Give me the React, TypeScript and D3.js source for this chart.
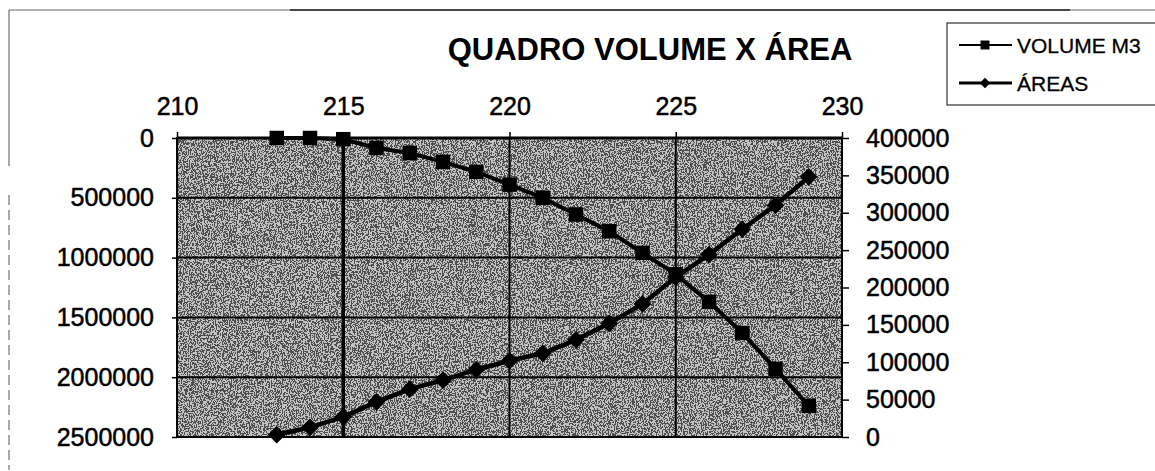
import React, { useEffect, useRef } from 'react';
import * as d3 from 'd3';

const cotas = [213, 214, 215, 216, 217, 218, 219, 220, 221, 222, 223, 224, 225, 226, 227, 228, 229];
const volumeM3 = [0, 0, 10000, 83000, 125000, 200000, 283000, 390000, 500000, 640000, 780000, 960000, 1140000, 1370000, 1630000, 1930000, 2240000];
const areas = [3000, 13000, 27000, 47000, 64000, 76000, 90000, 102000, 112000, 130000, 152000, 178000, 214000, 244000, 278000, 310000, 348000];

const topTicks = [210, 215, 220, 225, 230];
const leftTicks = [0, 500000, 1000000, 1500000, 2000000, 2500000];
const rightTicks = [0, 50000, 100000, 150000, 200000, 250000, 300000, 350000, 400000];
const seriesNames = ['VOLUME M3', 'ÁREAS'];

export default function App() {
  const svgRef = useRef<SVGSVGElement>(null);

  useEffect(() => {
    const svg = d3.select(svgRef.current); svg.selectAll('*').remove();
    const W = 1155, H = 471;
    const left = 177, right = 842, top = 138, bottom = 437;
    const font = 'Liberation Sans, Arial, sans-serif';

    const x = d3.scaleLinear().domain([210, 230]).range([left, right]);
    const yL = d3.scaleLinear().domain([0, 2500000]).range([top, bottom]);
    const yR = d3.scaleLinear().domain([0, 400000]).range([bottom, top]);

    svg.append('rect').attr('width', W).attr('height', H).attr('fill', '#fff');

    // textura do fundo (digitalização)
    const defs = svg.append('defs');
    const f = defs.append('filter').attr('id', 'scan').attr('x', 0).attr('y', 0).attr('width', '100%').attr('height', '100%');
    f.append('feTurbulence').attr('type', 'fractalNoise').attr('baseFrequency', '0.85 0.6').attr('numOctaves', 2).attr('seed', 4);
    f.append('feColorMatrix').attr('type', 'matrix').attr('values', '1 0 0 0 0  1 0 0 0 0  1 0 0 0 0  0 0 0 0 1');
    const ct = f.append('feComponentTransfer');
    ['feFuncR', 'feFuncG', 'feFuncB'].forEach(n => ct.append(n).attr('type', 'discrete').attr('tableValues', '0 1'));

    // moldura externa
    svg.append('line').attr('x1', 9).attr('x2', W).attr('y1', 10).attr('y2', 10).attr('stroke', '#666').attr('stroke-width', 1);
    svg.append('line').attr('x1', 290).attr('x2', 1070).attr('y1', 10).attr('y2', 10).attr('stroke', '#222').attr('stroke-width', 1.5);
    svg.append('line').attr('x1', 9).attr('x2', 9).attr('y1', 10).attr('y2', 166).attr('stroke', '#555').attr('stroke-width', 1);
    svg.append('line').attr('x1', 9).attr('x2', 9).attr('y1', 195).attr('y2', 470).attr('stroke', '#555').attr('stroke-width', 1).attr('stroke-dasharray', '10 5');

    // área de plotagem
    svg.append('rect').attr('x', left).attr('y', top).attr('width', right - left).attr('height', bottom - top).attr('fill', '#909090');
    svg.append('rect').attr('x', left).attr('y', top).attr('width', right - left).attr('height', bottom - top)
      .attr('filter', 'url(#scan)').attr('opacity', 0.45);

    // grades
    svg.append('g').selectAll('line').data(leftTicks.slice(1, -1)).enter().append('line')
      .attr('x1', left).attr('x2', right).attr('y1', d => yL(d)).attr('y2', d => yL(d)).attr('stroke', '#000').attr('stroke-width', 2);
    svg.append('g').selectAll('line').data(topTicks.slice(1, -1)).enter().append('line')
      .attr('x1', d => x(d)).attr('x2', d => x(d)).attr('y1', top).attr('y2', bottom).attr('stroke', '#000').attr('stroke-width', (d) => d === 215 ? 3.5 : 2);

    svg.append('rect').attr('x', left).attr('y', top).attr('width', right - left).attr('height', bottom - top)
      .attr('fill', 'none').attr('stroke', '#000').attr('stroke-width', 2);
    svg.append('line').attr('x1', left).attr('x2', right).attr('y1', top).attr('y2', top).attr('stroke', '#000').attr('stroke-width', 3);

    const styleAxis = (g: any) => {
      g.select('.domain').remove();
      g.selectAll('line').attr('stroke', '#000').attr('stroke-width', 1.5);
      g.selectAll('text').attr('font-family', font).attr('font-size', 25).attr('fill', '#000')
        .attr('stroke', '#000').attr('stroke-width', 0.5);
    };
    const fmt = d3.format('d');

    svg.append('g').attr('transform', `translate(0,${top})`)
      .call(d3.axisTop(x).tickValues(topTicks).tickSize(6).tickPadding(17).tickFormat(fmt as any)).call(styleAxis);
    svg.append('g').attr('transform', `translate(${left},0)`)
      .call(d3.axisLeft(yL).tickValues(leftTicks).tickSize(5).tickPadding(18).tickFormat(fmt as any)).call(styleAxis);
    svg.append('g').attr('transform', `translate(${right},0)`)
      .call(d3.axisRight(yR).tickValues(rightTicks).tickSize(7).tickPadding(17).tickFormat(fmt as any)).call(styleAxis);

    // séries
    const volLine = d3.line<number>().x((_, i) => x(cotas[i])).y(d => yL(d));
    const areaLine = d3.line<number>().x((_, i) => x(cotas[i])).y(d => yR(d));
    svg.append('path').datum(volumeM3).attr('d', volLine).attr('fill', 'none').attr('stroke', '#000').attr('stroke-width', 4);
    svg.append('path').datum(areas).attr('d', areaLine).attr('fill', 'none').attr('stroke', '#000').attr('stroke-width', 4.5);

    const sq = d3.symbol().type(d3.symbolSquare).size(210);
    const dia = d3.symbol().type(d3.symbolDiamond2).size(200);
    svg.append('g').selectAll('path').data(volumeM3).enter().append('path')
      .attr('d', sq).attr('transform', (d, i) => `translate(${x(cotas[i])},${yL(d)})`).attr('fill', '#000');
    svg.append('g').selectAll('path').data(areas).enter().append('path')
      .attr('d', dia).attr('transform', (d, i) => `translate(${x(cotas[i])},${yR(d)})`).attr('fill', '#000');

    // título
    svg.append('text').attr('x', 650).attr('y', 60).attr('text-anchor', 'middle').attr('font-family', font)
      .attr('font-size', 31).attr('font-weight', 'bold').text('QUADRO VOLUME X ÁREA');

    // legenda
    const lg = svg.append('g');
    lg.append('rect').attr('x', 947).attr('y', 23).attr('width', 220).attr('height', 82).attr('fill', '#fff').attr('stroke', '#333').attr('stroke-width', 1.2);
    seriesNames.forEach((name, i) => {
      const cy = 45 + i * 38;
      lg.append('line').attr('x1', 959).attr('x2', 1012).attr('y1', cy).attr('y2', cy).attr('stroke', '#000').attr('stroke-width', i === 0 ? 2 : 3);
      lg.append('path').attr('d', i === 0 ? d3.symbol().type(d3.symbolSquare).size(80)() : d3.symbol().type(d3.symbolDiamond2).size(70)())
        .attr('transform', `translate(985,${cy})`).attr('fill', '#000');
      lg.append('text').attr('x', 1017).attr('y', cy + 7.5).attr('font-family', font).attr('font-size', 21)
        .attr('stroke', '#000').attr('stroke-width', 0.3).text(name);
    });
  }, []);

  return (
    <svg ref={svgRef} width={1155} height={471} viewBox="0 0 1155 471"
      style={{ position: 'absolute', left: 0, top: 0, display: 'block' }} />
  );
}
